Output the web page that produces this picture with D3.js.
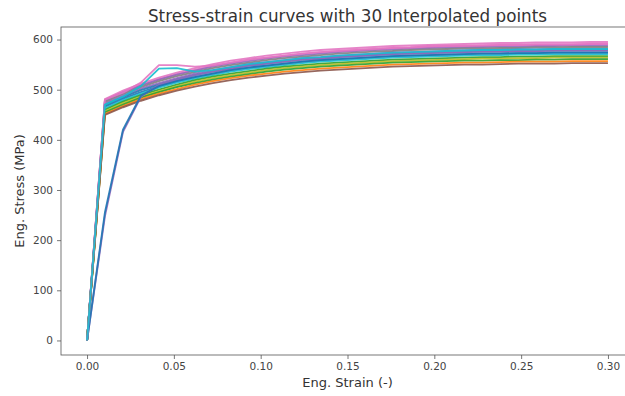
<!DOCTYPE html>
<html>
<head>
<meta charset="utf-8">
<script src="https://cdn.jsdelivr.net/npm/d3@7/dist/d3.min.js"></script>
<style>
    body { margin: 0; background: #ffffff; }
    text { font-family: "DejaVu Sans", sans-serif; }
</style>
</head>
<body>
<script>
// data
const strain = [0, 0.0103, 0.0207, 0.0310, 0.0414, 0.0517, 0.0621, 0.0724, 0.0828, 0.0931,
    0.1034, 0.1138, 0.1241, 0.1345, 0.1448, 0.1552, 0.1655, 0.1759, 0.1862, 0.1966,
    0.2069, 0.2172, 0.2276, 0.2379, 0.2483, 0.2586, 0.2690, 0.2793, 0.2897, 0.3000];

const curve01 = [0, 481, 498, 512, 524, 534, 543, 551, 558, 563, 568, 572, 576, 579, 581, 583, 585, 587, 588, 589, 590, 591, 592, 593, 593, 594, 594, 594, 595, 595];
const curve02 = [0, 479, 495, 509, 521, 531, 540, 548, 554, 560, 564, 568, 572, 575, 577, 579, 581, 583, 584, 586, 587, 587, 588, 589, 589, 590, 590, 590, 591, 591];
const curve03 = [0, 478, 494, 508, 520, 530, 538, 546, 552, 557, 562, 566, 569, 572, 575, 577, 579, 580, 582, 583, 584, 585, 585, 586, 586, 587, 587, 588, 588, 588];
const curve04 = [0, 475, 491, 505, 517, 527, 535, 543, 549, 554, 559, 563, 566, 569, 572, 574, 576, 577, 579, 580, 581, 582, 582, 583, 583, 584, 584, 585, 585, 585];
const curve05 = [0, 472, 488, 502, 513, 523, 532, 539, 545, 551, 555, 559, 563, 565, 568, 570, 572, 574, 575, 576, 577, 578, 579, 579, 580, 580, 581, 581, 581, 581];
const curve06 = [0, 469, 485, 499, 510, 520, 529, 536, 542, 548, 552, 556, 560, 562, 565, 567, 569, 571, 572, 573, 574, 575, 576, 576, 577, 577, 578, 578, 578, 578];
const curve07 = [0, 466, 482, 495, 507, 517, 525, 532, 539, 544, 548, 552, 556, 559, 561, 563, 565, 567, 568, 569, 570, 571, 572, 572, 573, 573, 574, 574, 574, 574];
const curve08 = [0, 463, 479, 492, 504, 514, 522, 529, 536, 541, 545, 549, 553, 556, 558, 560, 562, 564, 565, 566, 567, 568, 569, 569, 570, 570, 571, 571, 571, 571];
const curve09 = [0, 460, 476, 489, 500, 510, 519, 526, 532, 537, 542, 546, 549, 552, 554, 556, 558, 560, 561, 562, 563, 564, 565, 565, 566, 566, 567, 567, 567, 567];
const curve10 = [0, 457, 473, 486, 497, 507, 516, 523, 529, 534, 539, 543, 546, 549, 551, 553, 555, 557, 558, 559, 560, 561, 562, 562, 563, 563, 564, 564, 564, 564];
const curve11 = [0, 455, 470, 484, 495, 505, 513, 520, 526, 531, 536, 540, 543, 546, 548, 550, 552, 554, 555, 556, 557, 558, 558, 559, 559, 560, 560, 561, 561, 561];
const curve12 = [0, 452, 467, 481, 492, 501, 510, 517, 523, 528, 532, 536, 539, 542, 544, 546, 548, 550, 551, 552, 553, 554, 554, 555, 556, 556, 556, 557, 557, 557];
const curve13 = [0, 450, 465, 478, 489, 498, 506, 513, 519, 524, 528, 532, 535, 538, 540, 542, 544, 546, 547, 548, 549, 550, 550, 551, 552, 552, 552, 553, 553, 553];
// odd ones: slow rise and early bump
const curveSoftA = [0, 248, 416, 486, 510, 520, 529, 536, 542, 548, 552, 556, 560, 562, 565, 567, 569, 571, 572, 573, 574, 575, 576, 576, 577, 577, 578, 578, 578, 578];
const curveSoftB = [0, 255, 420, 488, 507, 517, 525, 532, 539, 544, 548, 552, 556, 559, 561, 563, 565, 567, 568, 569, 570, 571, 572, 572, 573, 573, 574, 574, 574, 574];
const curveBumpA = [0, 480, 494, 514, 549, 549, 546, 548, 554, 560, 564, 568, 572, 575, 577, 579, 581, 583, 584, 586, 587, 587, 588, 589, 589, 590, 590, 590, 591, 591];
const curveBumpB = [0, 470, 486, 507, 542, 543, 536, 539, 545, 551, 555, 559, 563, 565, 568, 570, 572, 574, 575, 576, 577, 578, 579, 579, 580, 580, 581, 581, 581, 581];

const xTicks = [0, 0.05, 0.10, 0.15, 0.20, 0.25, 0.30];
const yTicks = [0, 100, 200, 300, 400, 500, 600];
const titleText = "Stress-strain curves with 30 Interpolated points";
const xLabelText = "Eng. Strain (-)";
const yLabelText = "Eng. Stress (MPa)";

window.addEventListener('load', () => {
    init();
}, false);

let width = 625;
let height = 396;
let marginTop = 27;
let marginLeft = 61;
let axesRight = 634;   // right spine falls just outside the picture
let axesBottom = 355;

function init() {
    const curves = [curve01, curve02, curve03, curve04, curve05, curve06, curve07,
        curve08, curve09, curve10, curve11, curve12, curve13,
        curveSoftA, curveSoftB, curveBumpA, curveBumpB];
    const colors = ["#e377c2", "#e377c2", "#9467bd", "#7f7f7f", "#9467bd", "#1f77b4", "#1f77b4",
        "#17becf", "#2ca02c", "#bcbd22", "#2ca02c", "#ff7f0e", "#8c564b",
        "#9467bd", "#1f77b4", "#e377c2", "#17becf"];
    draw(curves, colors);
}

function draw(curves, colors) {

    const svg = d3.select("body")
        .append("svg")
        .attr("width", width)
        .attr("height", height);

    let xScale = d3.scaleLinear()
        .domain([-0.015, 0.315])
        .range([marginLeft, axesRight]);
    let yScale = d3.scaleLinear()
        .domain([-29, 625])
        .range([axesBottom, marginTop]);

    // lines
    const line = d3.line()
        .x((d, i) => xScale(strain[i]))
        .y((d) => yScale(d));

    svg.append("g")
        .selectAll("path")
        .data(curves)
        .join("path")
        .attr("d", line)
        .style("fill", "none")
        .style("stroke", (d, i) => colors[i])
        .attr("stroke-width", 1.9)
        .attr("stroke-opacity", 0.9)
        .attr("stroke-linejoin", "round");

    // axes
    let xAxis = svg.append("g")
        .attr("transform", "translate(0," + axesBottom + ")")
        .call(d3.axisBottom(xScale).tickValues(xTicks).tickFormat(d3.format(".2f")).tickSize(4).tickPadding(4));
    let yAxis = svg.append("g")
        .attr("transform", "translate(" + marginLeft + ",0)")
        .call(d3.axisLeft(yScale).tickValues(yTicks).tickSize(4).tickPadding(4));
    [xAxis, yAxis].forEach((ax) => {
        ax.select(".domain").remove();
        ax.selectAll("line").attr("stroke", "#555").attr("stroke-width", 0.8);
        ax.selectAll("text")
            .attr("fill", "#444")
            .style("font-size", "10.5px")
            .style("font-family", "DejaVu Sans, sans-serif");
    });

    // frame
    svg.append("rect")
        .attr("x", marginLeft)
        .attr("y", marginTop)
        .attr("width", axesRight - marginLeft)
        .attr("height", axesBottom - marginTop)
        .style("fill", "none")
        .style("stroke", "#555")
        .attr("stroke-width", 0.8);

    // texts
    let midX = (marginLeft + axesRight) / 2;
    svg.append("text")
        .attr("x", midX)
        .attr("y", 22)
        .attr("text-anchor", "middle")
        .attr("fill", "#333")
        .style("font-size", "16.8px")
        .text(titleText);
    svg.append("text")
        .attr("x", midX)
        .attr("y", 387)
        .attr("text-anchor", "middle")
        .attr("fill", "#333")
        .style("font-size", "13px")
        .text(xLabelText);
    svg.append("text")
        .attr("transform", "translate(24," + (marginTop + axesBottom) / 2 + ") rotate(-90)")
        .attr("text-anchor", "middle")
        .attr("fill", "#333")
        .style("font-size", "13px")
        .text(yLabelText);
}
</script>
</body>
</html>
